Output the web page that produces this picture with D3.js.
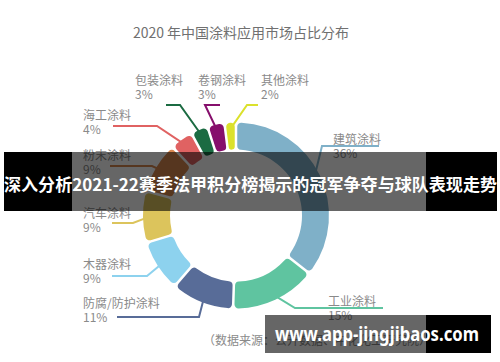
<!DOCTYPE html>
<html>
<head>
<meta charset="utf-8">
<script src="https://cdn.jsdelivr.net/npm/d3@7"></script>
<style>
  html, body { margin: 0; padding: 0; background: #fff; }
  svg { display: block; }
  text { font-family: "Noto Sans CJK SC", "Noto Sans", sans-serif; }
</style>
</head>
<body>
<div id="chart"></div>
<script>
// data
const categories = ["建筑涂料", "工业涂料", "防腐/防护涂料", "木器涂料", "汽车涂料",
                    "粉末涂料", "海工涂料", "包装涂料", "卷钢涂料", "其他涂料"];
const shares = [36, 15, 11, 9, 9, 9, 4, 3, 3, 2];
const sliceColors = ["#7fb0c8", "#5fc4a0", "#586c98", "#8dd2ee", "#dcc45c",
                     "#d8874f", "#e06262", "#1b6b42", "#860f6c", "#dbe12c"];
const chartTitle = "2020 年中国涂料应用市场占比分布";
const sourceNote = "（数据来源：公开数据、中化化工研究院）";
const bannerText = "深入分析2021-22赛季法甲积分榜揭示的冠军争夺与球队表现走势";
const siteText = "www.app-jingjibaos.com";

// label placement (layout only): bend point of leader, far end x, text anchor
const labelLayout = [
  {bend: [322, 146], endX: 379, tx: 333, ty: 144},
  {bend: [295, 308], endX: 383, tx: 328, ty: 306},
  {bend: [199, 317], endX: 117, tx: 83, ty: 308},
  {bend: [147, 276], endX: 112, tx: 83, ty: 269},
  {bend: [133, 223], endX: 112, tx: 83, ty: 218},
  {bend: [152, 166], endX: 110, tx: 83, ty: 160},
  {bend: [157, 126], endX: 113, tx: 83, ty: 120},
  {bend: [180, 105], endX: 166, tx: 135, ty: 85},
  {bend: [205, 105], endX: 220, tx: 198, ty: 85},
  {bend: [247, 105], endX: 258, tx: 261, ty: 85}
];

const width = 500, height = 362;
const cx = 236, cy = 215.5;
const outerR = 93, innerR = 66;

const svg = d3.select("#chart").append("svg")
    .attr("width", width)
    .attr("height", height);

// title
svg.append("text")
    .attr("x", 241).attr("y", 38)
    .attr("text-anchor", "middle")
    .attr("font-size", 14)
    .attr("fill", "#707070")
    .text(chartTitle);

const pie = d3.pie().sort(null).value(d => d)
    .startAngle(0).endAngle(2 * Math.PI);
const arcs = pie(shares);

const arc = d3.arc()
    .innerRadius(innerR)
    .outerRadius(outerR)
    .padAngle(0.022)
    .cornerRadius(4);

const g = svg.append("g").attr("transform", "translate(" + cx + "," + cy + ")");

// leader lines first, slices drawn over them
const lineGroup = svg.append("g");
arcs.forEach((d, i) => {
    let mid = (d.startAngle + d.endAngle) / 2;
    let r = outerR - 6;
    let sx = cx + r * Math.sin(mid), sy = cy - r * Math.cos(mid);
    let L = labelLayout[i];
    lineGroup.append("polyline")
        .attr("points", [[sx, sy], L.bend, [L.endX, L.bend[1]]].map(p => p.join(",")).join(" "))
        .attr("fill", "none")
        .attr("stroke", sliceColors[i])
        .attr("stroke-width", 2);
});
g.raise();

g.selectAll("path")
    .data(arcs)
    .enter()
    .append("path")
    .attr("d", arc)
    .attr("fill", (d, i) => sliceColors[i]);

// labels
const labels = svg.append("g");
categories.forEach((c, i) => {
    let L = labelLayout[i];
    labels.append("text")
        .attr("x", L.tx).attr("y", L.ty)
        .attr("font-size", 12)
        .attr("fill", "#8a8a8a")
        .text(c);
    labels.append("text")
        .attr("x", L.tx).attr("y", L.ty + 14)
        .attr("font-size", 12)
        .attr("fill", "#8a8a8a")
        .text(shares[i] + "%");
});

// source note
svg.append("text")
    .attr("x", 203).attr("y", 345)
    .attr("font-size", 12)
    .attr("fill", "#8a8a8a")
    .text(sourceNote);

// banner overlay
svg.append("rect").attr("x", 4).attr("y", 152).attr("width", 68).attr("height", 59).attr("fill", "#000");
svg.append("rect").attr("x", 72).attr("y", 152).attr("width", 354).attr("height", 59).attr("fill", "rgba(0,0,0,0.6)");
svg.append("rect").attr("x", 426).attr("y", 152).attr("width", 71).attr("height", 59).attr("fill", "#000");
svg.append("text")
    .attr("x", 4).attr("y", 191)
    .attr("font-size", 17)
    .attr("font-weight", "bold")
    .attr("fill", "#fff")
    .attr("textLength", 493)
    .attr("lengthAdjust", "spacingAndGlyphs")
    .text(bannerText);

// site watermark
svg.append("rect").attr("x", 265).attr("y", 315).attr("width", 161).attr("height", 38).attr("fill", "rgba(0,0,0,0.6)");
svg.append("rect").attr("x", 426).attr("y", 315).attr("width", 65).attr("height", 38).attr("fill", "#000");
svg.append("text")
    .attr("x", 275).attr("y", 341)
    .attr("font-size", 19)
    .attr("font-weight", "bold")
    .attr("fill", "#fff")
    .style("font-family", '"Noto Sans", sans-serif')
    .attr("textLength", 204)
    .attr("lengthAdjust", "spacingAndGlyphs")
    .text(siteText);
</script>
</body>
</html>
